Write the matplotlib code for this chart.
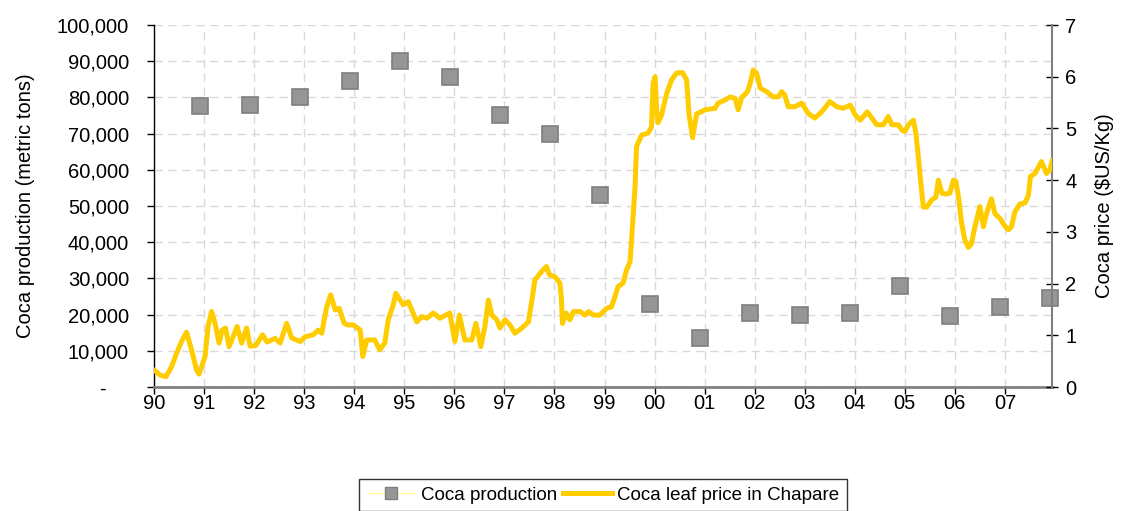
import matplotlib
matplotlib.use("Agg")
import matplotlib.pyplot as plt
from matplotlib.ticker import FuncFormatter, FixedLocator
from matplotlib.lines import Line2D

plt.rcParams['font.family'] = ['Liberation Sans', 'DejaVu Sans']

# ---- data ----
prod_years = list(range(1990, 2008))
production = [77500, 78000, 80000, 84500, 90000, 85500, 75000, 70000, 53000,
              23000, 13500, 20500, 20000, 20500, 28000, 19500, 22000, 24500]

price_t = [1990.00, 1990.12, 1990.24, 1990.35, 1990.45, 1990.55, 1990.65, 1990.75, 1990.85, 1990.90,
           1991.02, 1991.08, 1991.15, 1991.22, 1991.30, 1991.36, 1991.43, 1991.50, 1991.58, 1991.66,
           1991.75, 1991.85, 1991.92, 1992.03, 1992.17, 1992.26, 1992.42, 1992.52, 1992.65, 1992.75,
           1992.92, 1993.02, 1993.18, 1993.28, 1993.35, 1993.45, 1993.53, 1993.62, 1993.70, 1993.80,
           1993.88, 1993.98, 1994.12, 1994.17, 1994.25, 1994.41, 1994.51, 1994.61, 1994.68, 1994.78,
           1994.83, 1994.98, 1995.08, 1995.25, 1995.35, 1995.45, 1995.58, 1995.71, 1995.91, 1996.01,
           1996.10, 1996.21, 1996.35, 1996.43, 1996.53, 1996.61, 1996.68, 1996.75, 1996.85, 1996.91,
           1997.01, 1997.11, 1997.21, 1997.35, 1997.48, 1997.55, 1997.61, 1997.74, 1997.84, 1997.90,
           1998.01, 1998.11, 1998.14, 1998.16, 1998.23, 1998.31, 1998.38, 1998.51, 1998.61, 1998.68,
           1998.78, 1998.91, 1999.04, 1999.14, 1999.21, 1999.27, 1999.37, 1999.44, 1999.51, 1999.54,
           1999.61, 1999.64, 1999.74, 1999.87, 1999.94, 1999.97, 2000.01, 2000.04, 2000.07, 2000.14,
           2000.24, 2000.34, 2000.44, 2000.56, 2000.64, 2000.69, 2000.76, 2000.84, 2001.01, 2001.21,
           2001.27, 2001.41, 2001.51, 2001.61, 2001.67, 2001.74, 2001.85, 2001.91, 2001.97, 2002.04,
           2002.11, 2002.24, 2002.37, 2002.47, 2002.54, 2002.60, 2002.67, 2002.80, 2002.94, 2003.07,
           2003.20, 2003.34, 2003.50, 2003.64, 2003.77, 2003.91, 2004.01, 2004.11, 2004.25, 2004.34,
           2004.44, 2004.57, 2004.67, 2004.74, 2004.87, 2004.94, 2005.00, 2005.07, 2005.17, 2005.22,
           2005.27, 2005.32, 2005.37, 2005.44, 2005.54, 2005.62, 2005.67, 2005.74, 2005.80, 2005.90,
           2005.97, 2006.02, 2006.08, 2006.13, 2006.20, 2006.27, 2006.33, 2006.40, 2006.50, 2006.57,
           2006.64, 2006.73, 2006.80, 2006.90, 2007.00, 2007.07, 2007.13, 2007.20, 2007.30, 2007.40,
           2007.47, 2007.51, 2007.60, 2007.73, 2007.83, 2007.90, 2007.95]
price_v = [0.33, 0.23, 0.20, 0.39, 0.65, 0.88, 1.06, 0.72, 0.33, 0.25,
           0.59, 1.17, 1.46, 1.23, 0.85, 1.10, 1.14, 0.78, 0.97, 1.17,
           0.85, 1.14, 0.79, 0.80, 1.01, 0.87, 0.94, 0.85, 1.23, 0.95,
           0.88, 0.97, 1.01, 1.10, 1.04, 1.55, 1.78, 1.49, 1.52, 1.23,
           1.20, 1.20, 1.10, 0.59, 0.91, 0.91, 0.72, 0.85, 1.30, 1.59,
           1.81, 1.59, 1.65, 1.26, 1.36, 1.33, 1.43, 1.33, 1.43, 0.88,
           1.39, 0.91, 0.91, 1.23, 0.78, 1.17, 1.68, 1.39, 1.30, 1.14,
           1.30, 1.20, 1.04, 1.14, 1.26, 1.68, 2.07, 2.23, 2.33, 2.17,
           2.13, 2.01, 1.68, 1.23, 1.43, 1.30, 1.46, 1.46, 1.39, 1.46,
           1.39, 1.39, 1.52, 1.55, 1.75, 1.94, 2.01, 2.26, 2.42, 2.84,
           3.87, 4.65, 4.87, 4.91, 5.03, 5.87, 6.00, 5.36, 5.11, 5.26,
           5.67, 5.94, 6.07, 6.08, 5.94, 5.26, 4.82, 5.28, 5.36, 5.39,
           5.49, 5.55, 5.61, 5.58, 5.36, 5.60, 5.70, 5.87, 6.13, 6.07,
           5.78, 5.71, 5.61, 5.61, 5.71, 5.65, 5.42, 5.42, 5.49, 5.29,
           5.20, 5.32, 5.52, 5.42, 5.39, 5.45, 5.26, 5.16, 5.32, 5.20,
           5.07, 5.07, 5.23, 5.07, 5.07, 4.97, 4.94, 5.07, 5.16, 4.91,
           4.45, 3.94, 3.48, 3.48, 3.62, 3.67, 4.00, 3.75, 3.73, 3.75,
           4.00, 3.98, 3.62, 3.19, 2.84, 2.70, 2.77, 3.10, 3.49, 3.10,
           3.38, 3.64, 3.35, 3.26, 3.11, 3.04, 3.10, 3.39, 3.54, 3.56,
           3.71, 4.07, 4.13, 4.36, 4.13, 4.20, 4.39]

year_ticks = list(range(1990, 2008))
year_labels = ['90', '91', '92', '93', '94', '95', '96', '97', '98', '99',
               '00', '01', '02', '03', '04', '05', '06', '07']
prod_ticks = list(range(0, 100001, 10000))
price_ticks = list(range(0, 8))

# ---- figure ----
W, H = 1121, 511
fig = plt.figure(figsize=(W / 100, H / 100), dpi=100)
ax = fig.add_axes([154 / W, 1 - 387 / H, (1052 - 154) / W, (387 - 25) / H])
ax2 = ax.twinx()

FS = 14.5
GOLD = '#FFCC00'
GRIDC = '#d9d9d9'

# production squares (placed near the end of each year)
prod_x = [y + 0.91 for y in prod_years]
ax.plot(prod_x, production, linestyle='none', marker='s', markersize=11,
        markerfacecolor='#969696', markeredgecolor='#7f7f7f', markeredgewidth=1.2,
        clip_on=False, zorder=3)

ax.set_xlim(1990, 2007.94)
ax.set_ylim(0, 100000)
ax.xaxis.set_major_locator(FixedLocator(year_ticks))
ax.set_xticklabels(year_labels)
ax.yaxis.set_major_locator(FixedLocator(prod_ticks))
ax.yaxis.set_major_formatter(FuncFormatter(lambda v, p: '-    ' if v == 0 else f'{int(v):,}'))
ax.grid(True, which='major', color=GRIDC, linestyle=(0, (6, 4)), linewidth=1.0)
ax.set_axisbelow(True)

for s in ['top', 'right']:
    ax.spines[s].set_visible(False)
ax.spines['left'].set_color('black')
ax.spines['left'].set_linewidth(1.0)
ax.spines['bottom'].set_color('#808080')
ax.spines['bottom'].set_linewidth(2.0)

ax.tick_params(axis='y', direction='out', length=5, width=1, colors='black',
               labelsize=FS, pad=13)
ax.tick_params(axis='x', direction='out', length=5, width=1, colors='black',
               labelsize=FS, pad=0)
ax.set_ylabel('Coca production (metric tons)', fontsize=FS)
ax.yaxis.set_label_coords(-(154 - 35) / (1052 - 154), 0.5)

# price line
ax2.plot(price_t, price_v, color=GOLD, linewidth=3.6, solid_joinstyle='round',
         solid_capstyle='round', zorder=4)
ax2.set_ylim(0, 7)
ax2.yaxis.set_major_locator(FixedLocator(price_ticks))
for s in ['top', 'left', 'bottom']:
    ax2.spines[s].set_visible(False)
ax2.spines['right'].set_color('#808080')
ax2.spines['right'].set_linewidth(1.5)
ax2.tick_params(axis='y', direction='inout', length=9, width=1, colors='black',
                labelsize=FS, pad=5)
ax2.set_ylabel('Coca price (\\$US/Kg)', fontsize=FS)
ax2.yaxis.set_label_coords(1 + (1095 - 1052) / (1052 - 154), 0.5)

# legend
h1 = Line2D([], [], color='#ffff99', linewidth=1.0, marker='s', markersize=8,
            markerfacecolor='#969696', markeredgecolor='#7f7f7f')
h2 = Line2D([], [], color=GOLD, linewidth=3.6)
leg = fig.legend([h1, h2], ['Coca production', 'Coca leaf price in Chapare'],
                 loc='upper center', bbox_to_anchor=(603 / W, 1 - 479 / H),
                 ncol=2, frameon=True, fancybox=False, fontsize=13.5,
                 handlelength=2.6, handletextpad=0.3, columnspacing=0.3,
                 borderpad=0.4, borderaxespad=0)
leg.get_frame().set_edgecolor('black')
leg.get_frame().set_linewidth(1.0)

fig.savefig('out.png', dpi=100)
